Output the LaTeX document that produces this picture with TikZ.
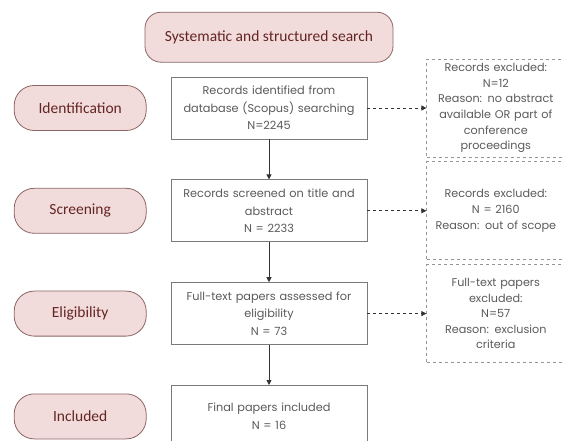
\documentclass[tikz,border=0pt]{standalone}
\usepackage{fontspec}
\setmainfont{Poppins}
\newfontfamily\pillfont{Carlito}
\usepackage{tikz}
\usetikzlibrary{positioning, arrows.meta}

\definecolor{pillfill}{HTML}{F2DCDB}
\definecolor{pilldraw}{HTML}{8C6464}
\definecolor{pilltext}{HTML}{632523}
\definecolor{boxdraw}{HTML}{7A7A7A}
\definecolor{boxtext}{HTML}{5A5A5A}

\tikzset{
  phase/.style={draw=pilldraw, fill=pillfill, rounded corners=20pt,
    minimum width=132pt, minimum height=45pt, text=pilltext,
    font=\pillfont\fontsize{15.5}{17}\selectfont},
  stepbox/.style={draw=boxdraw, minimum width=196pt, minimum height=62pt,
    text width=194pt, align=center, text=boxtext, inner sep=1pt,
    font=\fontsize{11.3}{17.5}\selectfont},
  excluded/.style={draw=boxdraw!80, dashed, minimum width=138pt, minimum height=98pt,
    text width=137pt, align=center, text=boxtext, inner sep=0.5pt,
    font=\fontsize{11.2}{15.6}\selectfont},
  flow/.style={draw=black!80, -{Triangle[length=5pt,width=5pt]}},
  skip/.style={flow, dashed}
}

\begin{document}
\begin{tikzpicture}[x=1pt, y=-1pt, line width=0.8pt]
  \useasboundingbox (0,0) rectangle (563,441);

  % main column
  \node[stepbox] (rec) at (269,108)
    {Records identified from\\database (Scopus) searching\\N=2245};
  \node[stepbox, below=40pt of rec] (scr)
    {Records screened on title and\\abstract\\N = 2233};
  \node[stepbox, below=40pt of scr] (elig)
    {Full-text papers assessed for\\eligibility\\N = 73};
  \node[stepbox, below=40pt of elig] (incl)
    {Final papers included\\N = 16};

  \node[phase, rounded corners=16pt, minimum width=248pt, minimum height=50pt,
    above=14pt of rec] (search) {Systematic and structured search};

  % phases on the left
  \node[phase, left=24pt of rec] (pid) {Identification};
  \node[phase, left=24pt of scr] (pscr) {Screening};
  \node[phase, left=24pt of elig] (pelig) {Eligibility};
  \node[phase, left=24pt of incl] (pincl) {Included};

  % excluded records on the right
  \node[excluded, right=59pt of rec] (exA)
    {Records excluded:\\N=12\\Reason: no abstract\\available OR part of\\conference\\proceedings};
  \node[excluded, right=59pt of scr] (exB)
    {Records excluded:\\N = 2160\\Reason: out of scope};
  \node[excluded, right=59pt of elig] (exC)
    {Full-text papers\\excluded:\\N=57\\Reason: exclusion\\criteria};

  \draw[flow] (rec) -- (scr);
  \draw[flow] (scr) -- (elig);
  \draw[flow] (elig) -- (incl);
  \draw[skip] (rec) -- (exA);
  \draw[skip] (scr) -- (exB);
  \draw[skip] (elig) -- (exC);
\end{tikzpicture}
\end{document}
